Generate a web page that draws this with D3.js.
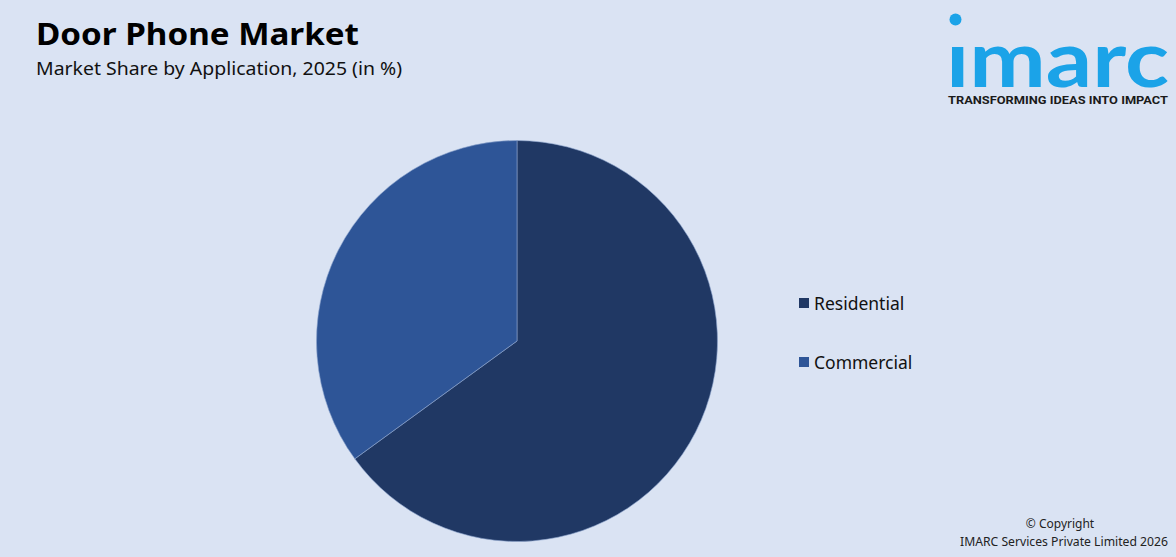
<!DOCTYPE html>
<html>
<head>
<meta charset="utf-8">
<script src="https://cdn.jsdelivr.net/npm/d3@7"></script>
<style>
  html, body { margin: 0; padding: 0; background: #DAE3F3; }
  svg { display: block; }
</style>
</head>
<body>
<svg id="chart" width="1176" height="557"></svg>
<script>
const categories = ["Residential", "Commercial"];
const values = [65, 35];
const colors = ["#203864", "#2E5597"];

const title = "Door Phone Market";
const subtitle = "Market Share by Application, 2025 (in %)";

const svg = d3.select("#chart");
svg.append("rect").attr("width", 1176).attr("height", 557).attr("fill", "#DAE3F3");

const font = "'Noto Sans', 'Open Sans', sans-serif";

svg.append("text").attr("x", 36).attr("y", 45)
  .attr("font-family", font).attr("font-weight", 700).attr("font-size", 30)
  .attr("fill", "#000").attr("textLength", 323).attr("lengthAdjust", "spacingAndGlyphs")
  .text(title);
svg.append("text").attr("x", 36).attr("y", 75)
  .attr("font-family", font).attr("font-size", 18)
  .attr("fill", "#111").attr("textLength", 366).attr("lengthAdjust", "spacingAndGlyphs")
  .text(subtitle);

// Pie
const data = categories.map((c, i) => ({ name: c, value: values[i], color: colors[i] }));
const pie = d3.pie().value(d => d.value).sort(null);
const arc = d3.arc().innerRadius(0).outerRadius(200.5);
const g = svg.append("g").attr("transform", "translate(517,341)");
g.selectAll("path").data(pie(data)).join("path")
  .attr("d", arc).attr("fill", d => d.data.color)
  .attr("stroke", "#8FA6CF").attr("stroke-width", 0.6);

// Legend
const legend = svg.append("g");
const ly = d3.scalePoint().domain(categories).range([303, 362]);
categories.forEach((c, i) => {
  legend.append("rect").attr("x", 799).attr("y", ly(c) - 5).attr("width", 10).attr("height", 10)
    .attr("fill", colors[i]);
  legend.append("text").attr("x", 814).attr("y", ly(c) + 7)
    .attr("font-family", font).attr("font-size", 17.5).attr("fill", "#111")
    .text(c);
});

// Logo
const logoBlue = "#1BA3E8";
svg.append("circle").attr("cx", 955.5).attr("cy", 19.5).attr("r", 6).attr("fill", logoBlue);
svg.append("text").attr("x", 946).attr("y", 87)
  .attr("font-family", "'Lato', 'Noto Sans', sans-serif").attr("font-weight", 700).attr("font-size", 78)
  .attr("fill", logoBlue).attr("textLength", 223).attr("lengthAdjust", "spacingAndGlyphs")
  .text("ımarc");
svg.append("text").attr("x", 948).attr("y", 104)
  .attr("font-family", "'Roboto', 'Noto Sans', sans-serif").attr("font-weight", 700).attr("font-size", 11.5)
  .attr("fill", "#1a1a1a").attr("textLength", 220).attr("lengthAdjust", "spacingAndGlyphs")
  .text("TRANSFORMING IDEAS INTO IMPACT");

// Copyright
svg.append("text").attr("x", 1060).attr("y", 528).attr("text-anchor", "middle")
  .attr("font-family", font).attr("font-size", 12).attr("fill", "#222")
  .text("© Copyright");
svg.append("text").attr("x", 1064).attr("y", 546).attr("text-anchor", "middle")
  .attr("font-family", font).attr("font-size", 12).attr("fill", "#222")
  .attr("textLength", 208).attr("lengthAdjust", "spacingAndGlyphs")
  .text("IMARC Services Private Limited 2026");
</script>
</body>
</html>
